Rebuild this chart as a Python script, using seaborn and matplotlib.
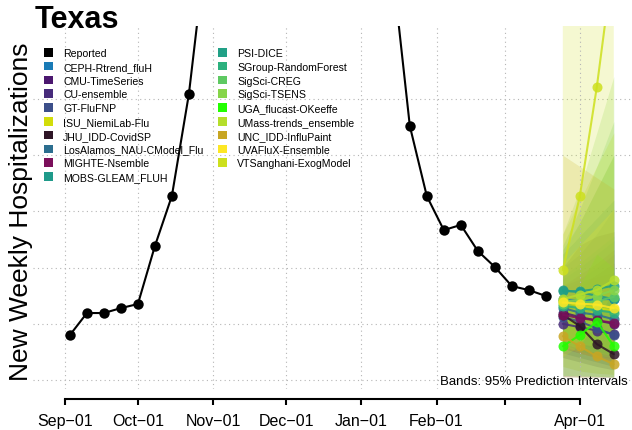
import pandas as pd
import numpy as np
import matplotlib
matplotlib.use("Agg")
import matplotlib.pyplot as plt
import matplotlib.dates as mdates
from matplotlib.patches import Patch
import seaborn as sns

# reported weekly hospitalizations (values above the visible range are estimates)
report_dates = pd.date_range("2022-09-03", "2023-03-18", freq="7D")
reported = [200, 298, 298, 320, 338, 596, 819, 1272, 1917, 2700, 3500, 4300, 4600,
            4200, 3600, 3300, 3400, 3000, 2300, 1819, 1130, 818, 667, 690, 574,
            503, 418, 400, 374]

fc_dates = pd.to_datetime(["2023-03-25", "2023-04-01", "2023-04-08", "2023-04-15"])

models = ["CEPH-Rtrend_fluH", "CMU-TimeSeries", "CU-ensemble", "GT-FluFNP",
          "ISU_NiemiLab-Flu", "JHU_IDD-CovidSP", "LosAlamos_NAU-CModel_Flu",
          "MIGHTE-Nsemble", "MOBS-GLEAM_FLUH", "PSI-DICE", "SGroup-RandomForest",
          "SigSci-CREG", "SigSci-TSENS", "UGA_flucast-OKeeffe",
          "UMass-trends_ensemble", "UNC_IDD-InfluPaint", "UVAFluX-Ensemble",
          "VTSanghani-ExogModel"]
model_colors = ["#1A7BB6", "#4B176F", "#472B7B", "#3C4F8A", "#D2DD0A", "#2E1526",
                "#2C6E8F", "#7B0F5B", "#1F9A8A", "#21A086", "#2CB17E", "#5EC962",
                "#86D549", "#22FF00", "#B5DE2B", "#C8A623", "#FDE725", "#CDE01D"]

median = [[360, 350, 360, 360], [300, 280, 265, 250], [250, 235, 220, 205],
          [280, 260, 230, 200], [350, 330, 320, 310], [290, 240, 160, 115],
          [320, 300, 290, 270], [290, 275, 265, 255], [400, 390, 375, 360],
          [395, 395, 405, 420], [330, 320, 310, 300], [340, 345, 350, 370],
          [350, 355, 375, 400], [150, 200, 260, 150], [360, 380, 400, 445],
          [195, 150, 105, 70], [345, 340, 335, 320], [489, 818, 1303, 1882]]
lower = [[200, 160, 130, 110], [150, 120, 100, 80], [100, 80, 60, 45],
         [120, 100, 80, 60], [60, 40, 30, 25], [15, 14, 13, 12],
         [160, 130, 110, 90], [140, 120, 100, 80], [200, 170, 150, 130],
         [190, 170, 150, 140], [170, 150, 130, 110], [150, 130, 110, 100],
         [160, 140, 120, 110], [20, 18, 16, 14], [180, 160, 150, 140],
         [13, 12, 12, 12], [150, 120, 100, 80], [100, 150, 250, 400]]
upper = [[500, 560, 650, 760], [420, 450, 500, 560], [380, 420, 470, 520],
         [400, 440, 460, 480], [650, 800, 950, 1100], [500, 600, 640, 660],
         [450, 500, 560, 620], [420, 470, 520, 580], [560, 640, 720, 800],
         [580, 700, 850, 1000], [460, 520, 580, 640], [600, 760, 950, 1150],
         [650, 850, 1100, 1350], [300, 420, 560, 500], [560, 700, 850, 1000],
         [1000, 950, 900, 850], [520, 600, 680, 760], [2500, 3500, 4500, 5500]]

tick_dates = pd.to_datetime(["2022-09-01", "2022-10-01", "2022-11-01", "2022-12-01",
                             "2023-01-01", "2023-02-01", "2023-03-01", "2023-04-01"])
tick_labels = ["Sep\u221201", "Oct\u221201", "Nov\u221201", "Dec\u221201",
               "Jan\u221201", "Feb\u221201", "", "Apr\u221201"]
grid_y = [0, 250, 500, 750, 1000, 1250]

sns.set_style("white")
plt.rcParams["font.family"] = ["Liberation Sans", "DejaVu Sans"]
plt.rcParams["text.color"] = "black"
plt.rcParams["xtick.color"] = "black"
plt.rcParams["axes.labelcolor"] = "black"

W, H = 632, 431
fig = plt.figure(figsize=(W / 100, H / 100), dpi=100)
ax = fig.add_axes([33 / W, 1 - 390 / H, (632 - 33) / W, (390 - 27) / H])

for gy in grid_y:
    ax.axhline(gy, color="#b5b5b5", lw=0.8, ls=(0, (1, 3)), zorder=0)
for td in tick_dates:
    ax.axvline(td, color="#b5b5b5", lw=0.8, ls=(0, (1, 3)), zorder=2)

# prediction interval bands
for m, c, lo, hi in zip(models, model_colors, lower, upper):
    ax.fill_between(fc_dates, lo, hi, color=c, alpha=0.2, lw=0, zorder=1)

fc_df = pd.DataFrame({
    "date": np.tile(fc_dates, len(models)),
    "value": np.concatenate(median),
    "model": np.repeat(models, len(fc_dates)),
})
sns.lineplot(data=fc_df, x="date", y="value", hue="model", hue_order=models,
             palette=model_colors, marker="o", markersize=7.2, markeredgewidth=0,
             lw=1.5, alpha=0.85, legend=False, errorbar=None, ax=ax, zorder=3)

sns.lineplot(x=report_dates, y=reported, color="black", marker="o", markersize=7.5,
             markeredgewidth=0, lw=1.5, errorbar=None, ax=ax, zorder=4)

day0 = pd.Timestamp("2022-09-01")
ax.set_xlim(day0 - pd.Timedelta(days=13.2), day0 + pd.Timedelta(days=233.5))
ax.set_ylim(-40, 1575)
ax.set_xlabel("")
ax.set_ylabel("")
ax.set_yticks([])
ax.set_xticks(tick_dates)
ax.set_xticklabels(tick_labels)
ax.tick_params(axis="x", length=4, width=1.5, pad=6, labelsize=11.5, direction="out",
               bottom=True, colors="black")
for s in ["top", "left", "right"]:
    ax.spines[s].set_visible(False)
ax.spines["bottom"].set_position(("outward", 7))
ax.spines["bottom"].set_linewidth(1.5)
ax.spines["bottom"].set_color("black")
ax.spines["bottom"].set_bounds(mdates.date2num(tick_dates[0]),
                               mdates.date2num(tick_dates[-1]))

fig.text(35 / W, 1 - 28 / H, "Texas", fontsize=22, fontweight="bold",
         ha="left", va="baseline")
fig.text(21 / W, 1 - 212 / H, "New Weekly Hospitalizations", fontsize=19,
         rotation=90, ha="center", va="center")
fig.text(628 / W, 1 - 382 / H, "Bands: 95% Prediction Intervals", fontsize=9.5,
         ha="right", va="center", zorder=10)

handles = [Patch(facecolor="black", edgecolor="none", label="Reported")]
handles += [Patch(facecolor=c, edgecolor="none", label=m)
            for m, c in zip(models, model_colors)]
leg_kw = dict(frameon=False, fontsize=7.6, handlelength=0.87, handleheight=0.87,
              handletextpad=0.95, labelspacing=0.36, borderpad=0, borderaxespad=0,
              loc="upper left")
leg1 = fig.legend(handles=handles[:10], bbox_to_anchor=(44 / W, 1 - 49 / H), **leg_kw)
leg2 = fig.legend(handles=handles[10:], bbox_to_anchor=(218 / W, 1 - 49 / H), **leg_kw)

fig.savefig("out.png", dpi=100)
